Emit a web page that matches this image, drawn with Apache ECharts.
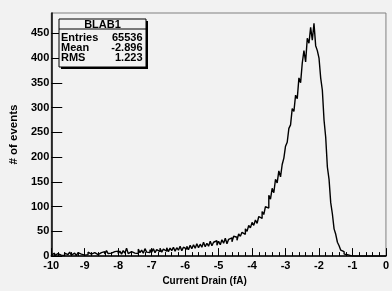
<!DOCTYPE html>
<html>
<head>
<meta charset="utf-8">
<script src="https://cdn.jsdelivr.net/npm/echarts@6/dist/echarts.min.js"></script>
<style>
html,body{margin:0;padding:0;background:#f2f2f2;}
#c{width:392px;height:291px;}
</style>
</head>
<body>
<div id="c"></div>
<script>
// Histogram: bins of width 0.05 from -10 to 0 (heights)
const binLo = -10;
const binWidth = 0.05;
const counts = [
  // -10 .. -9
  2,6,1,5,7,2,5,1,6,3,4,8,2,6,3,1,7,4,6,2,
  // -9 .. -8
  6,3,8,4,2,7,10,3,6,7,3,9,4,11,5,6,3,9,5,10,
  // -8 .. -7
  5,10,4,11,6,16,5,9,12,6,10,5,14,7,12,6,15,8,7,13,
  // -7 .. -6
  8,15,7,13,9,16,8,14,10,17,9,16,11,18,10,17,12,20,11,18,
  // -6 .. -5
  14,20,13,22,15,23,16,25,17,24,18,28,19,26,20,30,21,28,31,22,
  // -5 .. -4
  30,23,33,26,36,25,34,37,29,40,38,32,45,40,48,44,55,50,62,57,
  // -4 .. -3
  68,62,73,66,80,76,90,84,100,97,123,115,137,128,155,148,172,160,185,198,
  // -3 .. -2
  222,230,258,265,298,292,325,318,360,350,390,415,392,440,430,462,436,470,425,415,
  // -2 .. -1
  400,360,335,275,240,180,155,108,85,55,44,28,21,12,9,4,3,1,1,0,
  // -1 .. 0
  0,0,0,0,0,0,0,0,0,0,0,0,0,0,0,0,0,0,0,0
];
const xMin = -10, xMax = 0, xStep = 1;
const yMin = 0, yMax = 491, yStep = 50, yMinorStep = 10;
const histTitle = 'BLAB1';
const statNames = ['Entries', 'Mean', 'RMS'];
const statValues = ['65536', '-2.896', '1.223'];
const xTitle = 'Current Drain (fA)';
const yTitle = '# of events';

const data = counts.map((c, i) => [binLo + i * binWidth, c]);
data.push([binLo + counts.length * binWidth, counts[counts.length - 1]]);

const FONT = '"Liberation Sans", Arial, Helvetica, sans-serif';
const BG = '#f2f2f2';
const chart = echarts.init(document.getElementById('c'), null, {renderer: 'canvas'});

const gridL = 35, gridR = 5, gridT = 13, gridB = 29;
const plotW = 392 - gridL - gridR;

const bx = 59, by = 19, bw = 87, bh = 48;
const statGraphics = [
  {type: 'rect', shape: {x: bx + 2, y: by + 2, width: bw, height: bh}, style: {fill: '#000'}, z: 10},
  {type: 'rect', shape: {x: bx, y: by, width: bw, height: bh}, style: {fill: BG, stroke: '#000', lineWidth: 1}, z: 11},
  {type: 'line', shape: {x1: bx, y1: by + 10, x2: bx + bw, y2: by + 10}, style: {stroke: '#000', lineWidth: 1}, z: 12},
  {type: 'text', x: bx + bw / 2, y: by + 5.5, style: {text: histTitle, font: 'bold 11px ' + FONT, fill: '#000', align: 'center', verticalAlign: 'middle'}, z: 12}
];
statNames.forEach((n, i) => {
  statGraphics.push({type: 'text', x: bx + 2, y: by + 19 + i * 10, style: {text: n, font: 'bold 11px ' + FONT, fill: '#000', align: 'left', verticalAlign: 'middle'}, z: 12});
  statGraphics.push({type: 'text', x: bx + bw - 3.5, y: by + 19 + i * 10, style: {text: statValues[i], font: 'bold 11px ' + FONT, fill: '#000', align: 'right', verticalAlign: 'middle'}, z: 12});
});

chart.setOption({
  backgroundColor: BG,
  animation: false,
  grid: {left: gridL, right: gridR, top: gridT, bottom: gridB, show: true, borderColor: '#808080', borderWidth: 1, backgroundColor: 'transparent'},
  xAxis: {
    type: 'value', min: xMin, max: xMax, interval: xStep,
    name: xTitle, nameLocation: 'middle', nameGap: 18,
    nameTextStyle: {fontFamily: FONT, fontWeight: 'bold', fontSize: 10, color: '#000', padding: [0, 28, 0, 0]},
    axisLine: {show: true, onZero: false, lineStyle: {color: '#000', width: 1.5}},
    axisTick: {show: true, inside: true, length: 8, lineStyle: {color: '#000'}},
    minorTick: {show: true, splitNumber: 5, length: 4, lineStyle: {color: '#000'}},
    axisLabel: {fontFamily: FONT, fontWeight: 'bold', fontSize: 11, color: '#000', margin: 4},
    splitLine: {show: false}
  },
  yAxis: [{
    type: 'value', min: yMin, max: yMax, interval: yStep,
    name: yTitle, nameLocation: 'middle', nameGap: 30, nameRotate: 90,
    nameTextStyle: {fontFamily: FONT, fontWeight: 'bold', fontSize: 11.5, color: '#000'},
    axisLine: {show: true, onZero: false, lineStyle: {color: '#000', width: 1.5}},
    axisTick: {show: true, inside: true, length: 11, lineStyle: {color: '#000'}},
    axisLabel: {fontFamily: FONT, fontWeight: 'bold', fontSize: 11, color: '#000', margin: 2, showMaxLabel: false},
    splitLine: {show: false}
  }, {
    type: 'value', min: yMin, max: yMax, interval: yMinorStep, position: 'right', offset: -plotW,
    axisLine: {show: false},
    axisTick: {show: true, inside: false, length: 5, lineStyle: {color: '#000'}},
    axisLabel: {show: false},
    splitLine: {show: false}
  }],
  series: [{
    type: 'line', step: 'end', data: data, showSymbol: false, symbol: 'none',
    lineStyle: {color: '#000', width: 1.4}, clip: true, silent: true
  }],
  graphic: statGraphics
});
</script>
</body>
</html>
